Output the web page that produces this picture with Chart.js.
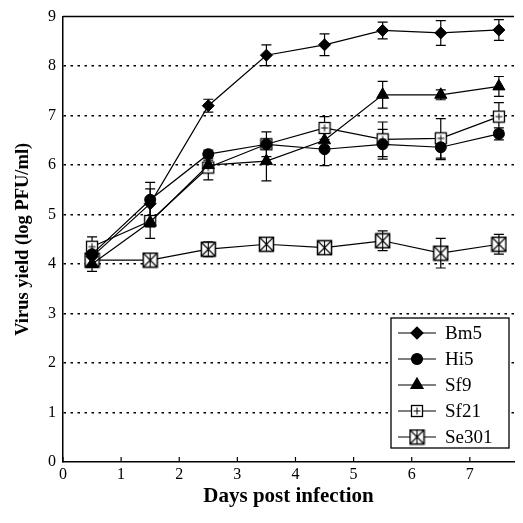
<!DOCTYPE html>
<html>
<head>
<meta charset="utf-8">
<script src="https://cdn.jsdelivr.net/npm/chart.js@4/dist/chart.umd.min.js"></script>
<style>
  html, body { margin: 0; padding: 0; background: #fff; }
  #wrap { width: 523px; height: 523px; }
</style>
</head>
<body>
<div id="wrap"><canvas id="virus-yield_" width="523" height="523"></canvas></div>
<script>
const days = [0.5, 1.5, 2.5, 3.5, 4.5, 5.5, 6.5, 7.5];
const xTicks = [0, 1, 2, 3, 4, 5, 6, 7];
const yTicks = [0, 1, 2, 3, 4, 5, 6, 7, 8, 9];

const bm5 = [4.15, 5.22, 7.2, 8.22, 8.43, 8.72, 8.67, 8.73];
const bm5Err = [0.1, 0.3, 0.13, 0.21, 0.22, 0.17, 0.25, 0.21];
const hi5 = [4.2, 5.3, 6.22, 6.42, 6.32, 6.42, 6.36, 6.63];
const hi5Err = [0.1, 0.35, 0.08, 0.1, 0.33, 0.3, 0.25, 0.12];
const sf9 = [4.0, 4.85, 6.0, 6.08, 6.5, 7.42, 7.42, 7.59];
const sf9Err = [0.15, 0.1, 0.1, 0.4, 0.2, 0.27, 0.1, 0.2];
const sf21 = [4.35, 4.87, 5.95, 6.42, 6.75, 6.52, 6.54, 6.98];
const sf21Err = [0.2, 0.35, 0.25, 0.25, 0.23, 0.35, 0.4, 0.28];
const se301 = [4.08, 4.08, 4.3, 4.4, 4.33, 4.47, 4.22, 4.4];
const se301Err = [0.08, 0.05, 0.15, 0.08, 0.05, 0.2, 0.3, 0.2];

const serif = "'Liberation Serif', 'DejaVu Serif', serif";

// open square with a small cross (Sf21)
function squareMark() {
    const c = document.createElement('canvas');
    c.width = 14; c.height = 14;
    const g = c.getContext('2d');
    g.fillStyle = '#fff';
    g.fillRect(1, 1, 12, 12);
    g.strokeStyle = '#000';
    g.lineWidth = 1.3;
    g.strokeRect(1.5, 1.5, 11, 11);
    g.lineWidth = 1;
    g.beginPath();
    g.moveTo(7, 3.5); g.lineTo(7, 10.5);
    g.moveTo(3.5, 7); g.lineTo(10.5, 7);
    g.stroke();
    return c;
}

// boxed asterisk (Se301)
function boxStarMark() {
    const c = document.createElement('canvas');
    c.width = 17; c.height = 17;
    const g = c.getContext('2d');
    g.fillStyle = '#fff';
    g.fillRect(1, 1, 15, 15);
    g.strokeStyle = '#000';
    g.lineWidth = 1.5;
    g.strokeRect(1.5, 1.5, 14, 14);
    g.lineWidth = 1.1;
    g.beginPath();
    g.moveTo(2, 2); g.lineTo(15, 15);
    g.moveTo(15, 2); g.lineTo(2, 15);
    g.moveTo(8.5, 2); g.lineTo(8.5, 15);
    g.stroke();
    return c;
}

const sqImg = squareMark();
const starImg = boxStarMark();

function series(label, values, errors, style, radius) {
    return {
        label: label,
        data: days.map((d, i) => ({ x: d, y: values[i] })),
        errors: errors,
        borderColor: '#000',
        backgroundColor: '#000',
        pointBackgroundColor: '#000',
        pointBorderColor: '#000',
        borderWidth: 1.2,
        pointStyle: style,
        pointRadius: radius,
        pointBorderWidth: 1,
        tension: 0,
        fill: false
    };
}

const errorBars = {
    id: 'errorBars',
    beforeDatasetsDraw(chart) {
        const ctx = chart.ctx;
        const y = chart.scales.y;
        ctx.save();
        ctx.strokeStyle = '#000';
        ctx.lineWidth = 1.2;
        chart.data.datasets.forEach((ds, di) => {
            const meta = chart.getDatasetMeta(di);
            meta.data.forEach((pt, i) => {
                const v = ds.data[i].y, e = ds.errors[i];
                const top = y.getPixelForValue(v + e), bot = y.getPixelForValue(v - e);
                ctx.beginPath();
                ctx.moveTo(pt.x, top); ctx.lineTo(pt.x, bot);
                ctx.moveTo(pt.x - 5, top); ctx.lineTo(pt.x + 5, top);
                ctx.moveTo(pt.x - 5, bot); ctx.lineTo(pt.x + 5, bot);
                ctx.stroke();
            });
        });
        ctx.restore();
    }
};

const frame = {
    id: 'frame',
    afterDraw(chart) {
        const ctx = chart.ctx;
        const a = chart.chartArea;
        const x = chart.scales.x;
        ctx.save();
        ctx.strokeStyle = '#000';
        ctx.lineWidth = 1.5;
        ctx.beginPath();
        ctx.moveTo(a.left, a.top); ctx.lineTo(a.right, a.top);
        ctx.stroke();
        ctx.lineWidth = 1.2;
        ctx.beginPath();
        x.ticks.forEach(t => {
            const px = x.getPixelForValue(t.value);
            ctx.moveTo(px, a.bottom); ctx.lineTo(px, a.bottom - 5);
        });
        ctx.stroke();
        ctx.restore();
    }
};

const boxLegend = {
    id: 'boxLegend',
    afterDraw(chart) {
        const ctx = chart.ctx;
        const left = 391, top = 318, w = 118, h = 130, step = 26;
        ctx.save();
        ctx.fillStyle = '#fff';
        ctx.fillRect(left, top, w, h);
        ctx.strokeStyle = '#000';
        ctx.lineWidth = 1.3;
        ctx.strokeRect(left, top, w, h);
        ctx.font = '19px ' + serif;
        ctx.textBaseline = 'middle';
        chart.data.datasets.forEach((ds, i) => {
            const cy = top + 15 + i * step;
            ctx.strokeStyle = '#000';
            ctx.lineWidth = 1.2;
            ctx.beginPath();
            ctx.moveTo(left + 7, cy); ctx.lineTo(left + 45, cy);
            ctx.stroke();
            const mx = left + 26;
            if (ds.pointStyle instanceof HTMLCanvasElement) {
                const im = ds.pointStyle;
                ctx.drawImage(im, mx - im.width / 2, cy - im.height / 2);
            } else {
                ctx.fillStyle = '#000';
                Chart.helpers.drawPoint(ctx, {
                    pointStyle: ds.pointStyle, radius: ds.pointRadius, rotation: 0, borderWidth: 1
                }, mx, cy);
            }
            ctx.fillStyle = '#000';
            ctx.fillText(ds.label, left + 54, cy + 1);
        });
        ctx.restore();
    }
};

new Chart(document.getElementById('virus-yield_'), {
    type: 'line',
    data: {
        datasets: [
            series('Bm5', bm5, bm5Err, 'rectRot', 6),
            series('Hi5', hi5, hi5Err, 'circle', 5.5),
            series('Sf9', sf9, sf9Err, 'triangle', 7),
            series('Sf21', sf21, sf21Err, sqImg, 6),
            series('Se301', se301, se301Err, starImg, 8)
        ]
    },
    options: {
        responsive: false,
        animation: false,
        layout: { padding: { top: 15, right: 0, left: 12, bottom: 14 } },
        scales: {
            x: {
                type: 'linear',
                min: 0,
                max: 7.76,
                afterBuildTicks: s => { s.ticks = xTicks.map(v => ({ value: v })); },
                afterFit: s => { s.height = 47; },
                grid: { display: false, drawTicks: false },
                border: { display: true, color: '#000', width: 1.5 },
                ticks: { color: '#000', padding: 3, font: { family: serif, size: 16 } },
                title: {
                    display: true,
                    text: 'Days post infection',
                    color: '#000',
                    padding: { top: 4, bottom: 0 },
                    font: { family: serif, size: 21, weight: 'bold' }
                }
            },
            y: {
                min: 0,
                max: 9,
                afterBuildTicks: s => { s.ticks = yTicks.map(v => ({ value: v })); },
                afterFit: s => { s.width = 51; },
                grid: {
                    drawTicks: false,
                    lineWidth: 1.5,
                    color: c => (c.tick && c.tick.value > 0 && c.tick.value < 9) ? '#000' : 'rgba(0,0,0,0)'
                },
                border: { display: true, color: '#000', width: 1.5, dash: [2.5, 4.5] },
                ticks: { color: '#000', padding: 7, font: { family: serif, size: 16 } },
                title: {
                    display: true,
                    text: 'Virus yield (log PFU/ml)',
                    color: '#000',
                    padding: { top: 0, bottom: 0 },
                    font: { family: serif, size: 18.5, weight: 'bold' }
                }
            }
        },
        plugins: {
            legend: { display: false },
            tooltip: { enabled: false }
        }
    },
    plugins: [errorBars, frame, boxLegend]
});
</script>
</body>
</html>
